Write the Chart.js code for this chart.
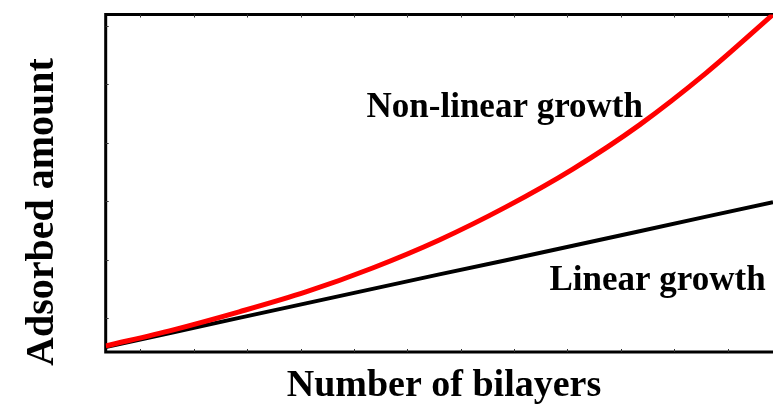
<html>
<head>
    <script type="text/javascript" src="https://cdn.jsdelivr.net/npm/chart.js@4.4.1/dist/chart.umd.min.js"></script>
    <style>
        body { margin: 0; background: #fff; }
        #wrap { position: relative; width: 773px; height: 408px; overflow: hidden; }
    </style>
</head>
<body>
    <div id="wrap">
        <canvas id="growth"></canvas>
    </div>

    <script type="text/javascript">
        // values (arbitrary units, 0..100 on the y axis)
        var bilayers = [0, 1, 2, 3, 4, 5, 6, 7, 8, 9, 10];
        var linearGrowth = [1.5, 5.8, 10.1, 14.4, 18.7, 23.0, 27.2, 31.5, 35.8, 40.1, 44.4];
        var nonLinearGrowth = [1.8, 6.5, 11.9, 17.8, 24.9, 33.2, 43.0, 54.2, 67.3, 82.7, 100];

        // small inward tick marks on the frame
        var xMinorTicks = [0.52, 1.32, 2.12, 2.92, 3.72, 4.52, 5.32, 6.12, 6.92, 7.72, 8.52, 9.32];
        var yMinorTicks = [10.1, 27.4, 44.7, 62.0, 79.3, 96.6];

        var xTitle = "Number of bilayers";
        var yTitle = "Adsorbed amount";
        var nonLinearLabel = "Non-linear growth";
        var linearLabel = "Linear growth";

        var serif = "'Liberation Serif', 'Times New Roman', serif";

        function points(xs, ys) {
            var out = [];
            for (var i = 0; i < xs.length; i++) {
                out.push({x: xs[i], y: ys[i]});
            }
            return out;
        }

        // frame with inward ticks, drawn under the lines
        var framePlugin = {
            id: 'frame',
            beforeDatasetsDraw: function(chart) {
                var ctx = chart.ctx;
                var a = chart.chartArea;
                var xs = chart.scales.x, ys = chart.scales.y;
                ctx.save();
                ctx.strokeStyle = '#000';
                ctx.lineWidth = 3;
                ctx.beginPath();
                ctx.moveTo(a.right + 5, a.top);
                ctx.lineTo(a.left, a.top);
                ctx.lineTo(a.left, a.bottom);
                ctx.lineTo(a.right + 5, a.bottom);
                ctx.stroke();

                ctx.strokeStyle = '#333';
                ctx.lineWidth = 1;
                ctx.beginPath();
                for (var i = 0; i < xMinorTicks.length; i++) {
                    var px = Math.round(xs.getPixelForValue(xMinorTicks[i])) + 0.5;
                    ctx.moveTo(px, a.top);
                    ctx.lineTo(px, a.top + 3);
                    ctx.moveTo(px, a.bottom);
                    ctx.lineTo(px, a.bottom - 3);
                }
                for (var j = 0; j < yMinorTicks.length; j++) {
                    var py = Math.round(ys.getPixelForValue(yMinorTicks[j])) + 0.5;
                    ctx.moveTo(a.left, py);
                    ctx.lineTo(a.left + 3, py);
                }
                ctx.stroke();
                ctx.restore();
            },
            afterDraw: function(chart) {
                var ctx = chart.ctx;
                var xs = chart.scales.x, ys = chart.scales.y;
                ctx.save();
                ctx.fillStyle = '#000';
                ctx.textAlign = 'center';
                ctx.textBaseline = 'alphabetic';

                ctx.font = 'bold 35px ' + serif;
                ctx.fillText(nonLinearLabel, xs.getPixelForValue(5.98), ys.getPixelForValue(69.6));
                ctx.fillText(linearLabel, xs.getPixelForValue(8.27), ys.getPixelForValue(18.4));

                ctx.font = 'bold 38px ' + serif;
                ctx.fillText(xTitle, 444, 396);

                ctx.font = 'bold 40px ' + serif;
                ctx.translate(53, 212);
                ctx.rotate(-Math.PI / 2);
                ctx.fillText(yTitle, 0, 0);
                ctx.restore();
            }
        };

        var chart = new Chart(document.getElementById('growth').getContext('2d'), {
            type: 'line',
            data: {
                datasets: [{
                    label: nonLinearLabel,
                    data: points(bilayers, nonLinearGrowth),
                    borderColor: '#ff0000',
                    borderWidth: 5,
                    pointRadius: 0,
                    cubicInterpolationMode: 'monotone',
                    fill: false
                }, {
                    label: linearLabel,
                    data: points(bilayers, linearGrowth),
                    borderColor: '#000000',
                    borderWidth: 4,
                    pointRadius: 0,
                    fill: false
                }]
            },
            options: {
                responsive: true,
                maintainAspectRatio: false,
                animation: false,
                layout: {
                    padding: {left: 105.7, top: 14.5, right: 0, bottom: 56}
                },
                plugins: {
                    legend: {display: false},
                    tooltip: {enabled: false}
                },
                scales: {
                    x: {type: 'linear', min: 0, max: 10, display: false},
                    y: {min: 0, max: 100, display: false}
                }
            },
            plugins: [framePlugin]
        });
    </script>
</body>
</html>
